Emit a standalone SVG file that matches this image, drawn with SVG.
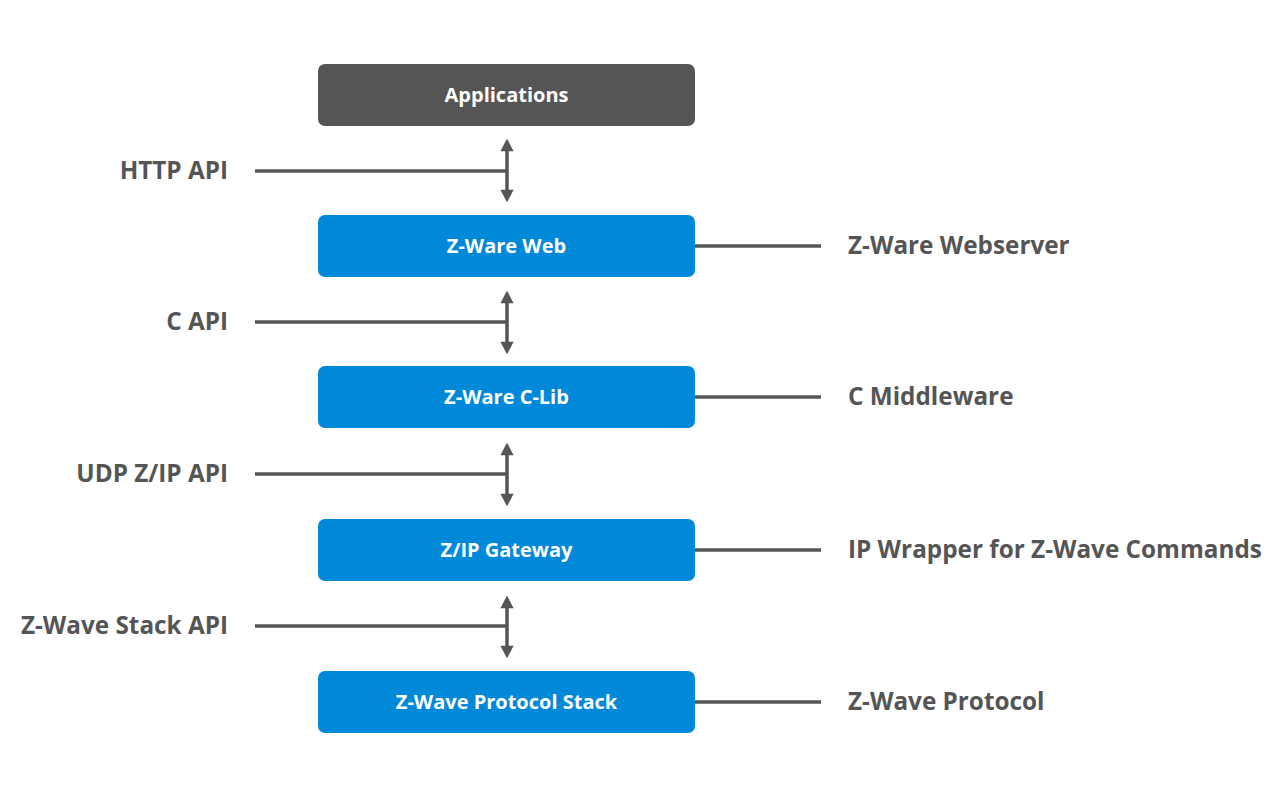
<svg xmlns="http://www.w3.org/2000/svg" width="1280" height="805" viewBox="0 0 1280 805">
<defs>
<marker id="ah" viewBox="0 0 10 10" refX="5" refY="5" markerWidth="4.2" markerHeight="4.2" orient="auto-start-reverse" markerUnits="strokeWidth">
<path d="M1.5,0.5 L10,5 L1.5,9.5 Z" fill="#555555"/>
</marker>
<style>
.box{fill:#0088D9}
.dark{fill:#555555}
.bt{font-family:"Open Sans","Noto Sans",sans-serif;font-weight:bold;font-size:20px;fill:#ffffff;text-anchor:middle}
.lbl{font-family:"Open Sans","Noto Sans",sans-serif;font-weight:bold;font-size:24.3px;fill:#555555}
.ln{stroke:#555555;stroke-width:3.5;fill:none}
.ar{stroke:#555555;stroke-width:3.5;fill:none;marker-start:url(#ah);marker-end:url(#ah)}
</style>
</defs>
<rect width="1280" height="805" fill="#ffffff"/>
<g id="applications"><rect class="dark" x="318" y="64" width="377" height="62" rx="7"/><text class="bt" x="506.5" y="102">Applications</text></g>
<g id="zware-web"><rect class="box" x="318" y="215" width="377" height="62" rx="7"/><text class="bt" x="506.5" y="253">Z-Ware Web</text></g>
<g id="zware-clib"><rect class="box" x="318" y="366" width="377" height="62" rx="7"/><text class="bt" x="506.5" y="404">Z-Ware C-Lib</text></g>
<g id="zip-gateway"><rect class="box" x="318" y="519" width="377" height="62" rx="7"/><text class="bt" x="506.5" y="557">Z/IP Gateway</text></g>
<g id="zwave-stack"><rect class="box" x="318" y="671" width="377" height="62" rx="7"/><text class="bt" x="506.5" y="709">Z-Wave Protocol Stack</text></g>
<g id="connectors">
<path class="ar" d="M507,146 V195"/>
<path class="ln" d="M255,171 H507"/>
<path class="ar" d="M507,298 V347"/>
<path class="ln" d="M255,322 H507"/>
<path class="ar" d="M507,450 V499"/>
<path class="ln" d="M255,474 H507"/>
<path class="ar" d="M507,603 V651"/>
<path class="ln" d="M255,626 H507"/>
<path class="ln" d="M695,246 H821"/>
<path class="ln" d="M695,397 H821"/>
<path class="ln" d="M695,550 H821"/>
<path class="ln" d="M695,702 H821"/>
</g>
<g id="left-labels">
<text class="lbl" x="228" y="178.5" text-anchor="end">HTTP API</text>
<text class="lbl" x="228" y="329.5" text-anchor="end">C API</text>
<text class="lbl" x="228" y="481.5" text-anchor="end">UDP Z/IP API</text>
<text class="lbl" x="228" y="633.5" text-anchor="end">Z-Wave Stack API</text>
</g>
<g id="right-labels">
<text class="lbl" x="848" y="253.5">Z-Ware Webserver</text>
<text class="lbl" x="848" y="404.5">C Middleware</text>
<text class="lbl" x="848" y="557.5">IP Wrapper for Z-Wave Commands</text>
<text class="lbl" x="848" y="709.5">Z-Wave Protocol</text>
</g>
</svg>
